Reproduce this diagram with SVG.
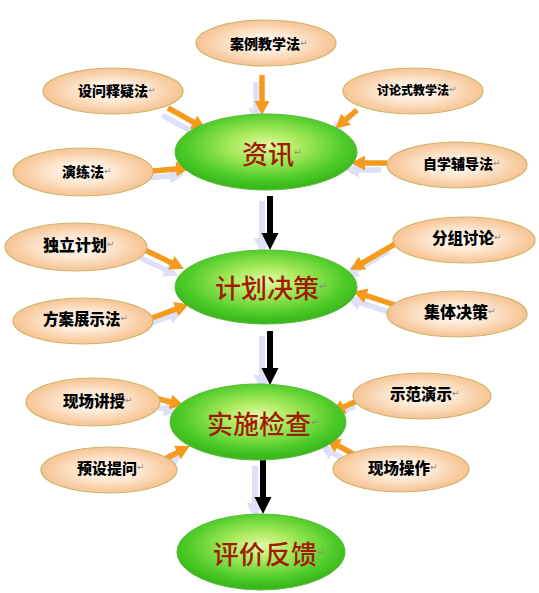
<svg xmlns="http://www.w3.org/2000/svg" width="539" height="593" viewBox="0 0 539 593">
<defs>
<radialGradient id="gOr" cx="50%" cy="50%" r="50%">
<stop offset="0" stop-color="#ffffff"/>
<stop offset="0.45" stop-color="#fde8d2"/>
<stop offset="1" stop-color="#f7c393"/>
</radialGradient>
<radialGradient id="gGr" cx="50%" cy="42%" r="55%">
<stop offset="0" stop-color="#e4f8a8"/>
<stop offset="0.35" stop-color="#a8ea5c"/>
<stop offset="0.8" stop-color="#4ccb28"/>
<stop offset="1" stop-color="#3ab81c"/>
</radialGradient>
<marker id="mO" markerUnits="userSpaceOnUse" markerWidth="15" markerHeight="15" refX="5" refY="7.5" orient="auto"><path d="M0,0 L14,7.5 L0,15 z" fill="#f49a1c"/></marker>
<marker id="mS" markerUnits="userSpaceOnUse" markerWidth="15" markerHeight="15" refX="5" refY="7.5" orient="auto"><path d="M0,0 L14,7.5 L0,15 z" fill="#dde0f7"/></marker>
<marker id="mB" markerUnits="userSpaceOnUse" markerWidth="18" markerHeight="18" refX="5" refY="8.5" orient="auto"><path d="M0,0 L17,8.5 L0,17 z" fill="#000"/></marker>
<marker id="mBS" markerUnits="userSpaceOnUse" markerWidth="18" markerHeight="18" refX="5" refY="8.5" orient="auto"><path d="M0,0 L17,8.5 L0,17 z" fill="#dde0f7"/></marker>
</defs>
<style>
.or{fill:url(#gOr);stroke:#cdb46a;stroke-width:1.2}
.gr{fill:url(#gGr);stroke:#5cb83a;stroke-width:1}
.lb{font-family:"Noto Sans CJK SC","Noto Sans CJK JP",sans-serif;font-weight:900;fill:#000;dominant-baseline:central}
.big{font-family:"Noto Sans CJK SC","Noto Sans CJK JP",sans-serif;font-weight:500;fill:#9e1c00;font-size:26px;dominant-baseline:central}
.pm{font-family:"DejaVu Sans",sans-serif;font-weight:normal;fill:#8a8a8a;font-size:9px}
.ao{stroke:#f49a1c;stroke-width:5.5;fill:none;marker-end:url(#mO)}
.as{stroke:#dde0f7;stroke-width:5.5;fill:none;marker-end:url(#mS)}
.ab{stroke:#000;stroke-width:6;fill:none;marker-end:url(#mB)}
.abs{stroke:#dde0f7;stroke-width:6;fill:none;marker-end:url(#mBS)}
</style>

<g id="connectors">
<g id="shadows" transform="translate(-6,7)">
<line class="as" x1="262" y1="75" x2="262" y2="106"/>
<line class="as" x1="168" y1="108" x2="198" y2="124.6"/>
<line class="as" x1="153" y1="171" x2="181" y2="168.6"/>
<line class="as" x1="357" y1="110" x2="342.3" y2="122.5"/>
<line class="as" x1="387" y1="163" x2="360" y2="163"/>
<line class="as" x1="145" y1="250" x2="175.7" y2="264.9"/>
<line class="as" x1="152" y1="318" x2="180.4" y2="307.4"/>
<line class="as" x1="395" y1="244" x2="358" y2="265.5"/>
<line class="as" x1="395" y1="305" x2="361.7" y2="294.2"/>
<line class="as" x1="155" y1="398" x2="175.2" y2="403.2"/>
<line class="as" x1="163" y1="460" x2="181.8" y2="450.2"/>
<line class="as" x1="361" y1="399" x2="339.3" y2="409"/>
<line class="as" x1="355" y1="455" x2="334.1" y2="443.4"/>
</g>
<line class="abs" x1="262" y1="201" x2="262" y2="243"/>
<line class="abs" x1="262" y1="336" x2="262" y2="380"/>
<line class="abs" x1="255" y1="466" x2="255" y2="508"/>
<line class="ao" x1="262" y1="75" x2="262" y2="106"/>
<line class="ao" x1="168" y1="108" x2="198" y2="124.6"/>
<line class="ao" x1="153" y1="171" x2="181" y2="168.6"/>
<line class="ao" x1="357" y1="110" x2="342.3" y2="122.5"/>
<line class="ao" x1="387" y1="163" x2="360" y2="163"/>
<line class="ao" x1="145" y1="250" x2="175.7" y2="264.9"/>
<line class="ao" x1="152" y1="318" x2="180.4" y2="307.4"/>
<line class="ao" x1="395" y1="244" x2="358" y2="265.5"/>
<line class="ao" x1="395" y1="305" x2="361.7" y2="294.2"/>
<line class="ao" x1="155" y1="398" x2="175.2" y2="403.2"/>
<line class="ao" x1="163" y1="460" x2="181.8" y2="450.2"/>
<line class="ao" x1="361" y1="399" x2="339.3" y2="409"/>
<line class="ao" x1="355" y1="455" x2="334.1" y2="443.4"/>
<line class="ab" x1="270" y1="196" x2="270" y2="238"/>
<line class="ab" x1="270" y1="331" x2="270" y2="373"/>
<line class="ab" x1="263" y1="460" x2="263" y2="502"/>
</g>

<g id="n-zixun"><ellipse class="gr" cx="266" cy="152" rx="91" ry="38"/><text class="big" x="242" y="152">资讯<tspan class="pm">↵</tspan></text></g>
<g id="n-jihua"><ellipse class="gr" cx="266" cy="287" rx="91" ry="37"/><text class="big" x="215" y="286">计划决策<tspan class="pm">↵</tspan></text></g>
<g id="n-shishi"><ellipse class="gr" cx="258" cy="422" rx="88" ry="38"/><text class="big" x="207" y="422">实施检查<tspan class="pm">↵</tspan></text></g>
<g id="n-pingjia"><ellipse class="gr" cx="261" cy="552" rx="84" ry="38"/><text class="big" x="213" y="552">评价反馈<tspan class="pm">↵</tspan></text></g>

<g id="n-anli"><ellipse class="or" cx="266" cy="43" rx="70" ry="23"/><text class="lb" x="230" y="43" font-size="14">案例教学法<tspan class="pm">↵</tspan></text></g>
<g id="n-shewen"><ellipse class="or" cx="113" cy="91" rx="70" ry="23"/><text class="lb" x="78" y="90" font-size="14">设问释疑法<tspan class="pm">↵</tspan></text></g>
<g id="n-yanlian"><ellipse class="or" cx="83" cy="172" rx="70" ry="24"/><text class="lb" x="62" y="171" font-size="14">演练法<tspan class="pm">↵</tspan></text></g>
<g id="n-taolun"><ellipse class="or" cx="413" cy="91" rx="70" ry="23"/><text class="lb" x="377" y="89" font-size="12">讨论式教学法<tspan class="pm">↵</tspan></text></g>
<g id="n-zixue"><ellipse class="or" cx="457" cy="165" rx="70" ry="23"/><text class="lb" x="423" y="163" font-size="14">自学辅导法<tspan class="pm">↵</tspan></text></g>
<g id="n-duli"><ellipse class="or" cx="76" cy="247" rx="71" ry="24"/><text class="lb" x="43" y="244" font-size="16">独立计划<tspan class="pm">↵</tspan></text></g>
<g id="n-fangan"><ellipse class="or" cx="83" cy="321" rx="70" ry="23"/><text class="lb" x="43" y="318" font-size="15.5">方案展示法<tspan class="pm">↵</tspan></text></g>
<g id="n-fenzu"><ellipse class="or" cx="464" cy="240" rx="71" ry="23"/><text class="lb" x="432" y="237" font-size="15.5">分组讨论<tspan class="pm">↵</tspan></text></g>
<g id="n-jiti"><ellipse class="or" cx="457" cy="314" rx="70" ry="23"/><text class="lb" x="424" y="311" font-size="16">集体决策<tspan class="pm">↵</tspan></text></g>
<g id="n-xianchang"><ellipse class="or" cx="93" cy="402" rx="67" ry="24"/><text class="lb" x="63" y="400" font-size="15.5">现场讲授<tspan class="pm">↵</tspan></text></g>
<g id="n-yushe"><ellipse class="or" cx="109" cy="470" rx="68" ry="23"/><text class="lb" x="77" y="467" font-size="15">预设提问<tspan class="pm">↵</tspan></text></g>
<g id="n-shifan"><ellipse class="or" cx="422" cy="396" rx="69" ry="23"/><text class="lb" x="390" y="393" font-size="15.5">示范演示<tspan class="pm">↵</tspan></text></g>
<g id="n-caozuo"><ellipse class="or" cx="401" cy="469" rx="68" ry="23"/><text class="lb" x="368" y="467" font-size="15.5">现场操作<tspan class="pm">↵</tspan></text></g>
</svg>
